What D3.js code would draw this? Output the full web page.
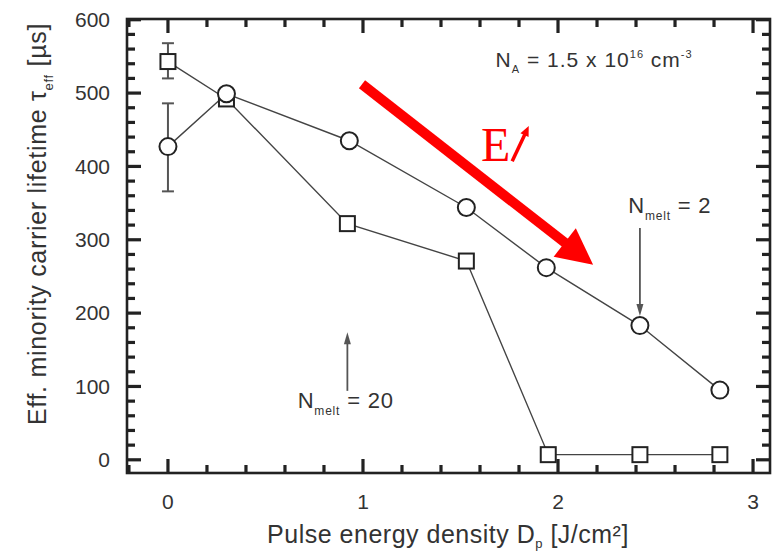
<!DOCTYPE html>
<html>
<head>
<meta charset="utf-8">
<script src="https://cdn.jsdelivr.net/npm/d3@7"></script>
<style>
  body { margin: 0; background: #fff; }
  text { font-family: "Liberation Sans", Arial, sans-serif; fill: #333; }
</style>
</head>
<body>
<div id="chart"></div>
<script>
// data
var circleX = [0, 0.30, 0.93, 1.53, 1.94, 2.42, 2.83];
var circleY = [427, 499, 435, 344, 262, 183, 95];
var squareX = [0, 0.30, 0.92, 1.53, 1.95, 2.42, 2.83];
var squareY = [543, 492, 322, 271, 7, 7, 7];
// error bars only on the first point of each series [x, low, high]
var circleErr = [[0, 366, 486]];
var squareErr = [[0, 520, 568]];
var xMajor = [0, 1, 2, 3];
var yMajor = [0, 100, 200, 300, 400, 500, 600];

var W = 775, H = 555;
var margin = {top: 19, right: 5, bottom: 82, left: 127};
var width = W - margin.left - margin.right;
var height = H - margin.top - margin.bottom;

var svg = d3.select("#chart").append("svg")
    .attr("width", W)
    .attr("height", H);
var g = svg.append("g")
    .attr("transform", "translate(" + margin.left + "," + margin.top + ")");

var x = d3.scaleLinear().domain([-0.21, 3.087]).range([0, width]);
var y = d3.scaleLinear().domain([-18, 601]).range([height, 0]);

var xMinor = d3.range(-0.2, 3.01, 0.2).map(function(d) { return +d.toFixed(1); })
    .filter(function(d) { return xMajor.indexOf(d) < 0; });
var yMinor = d3.range(0, 601, 20).filter(function(d) { return d % 100 !== 0; });

// inward ticks on all four sides of the frame, drawn as small filled rects
var tk = g.append("g").attr("fill", "#222");
function xTicks(vals, len) {
    tk.selectAll(null).data(vals).enter().append("rect")
        .attr("x", function(d) { return x(d) - 1.6; }).attr("y", height - len)
        .attr("width", 3.2).attr("height", len);
    tk.selectAll(null).data(vals).enter().append("rect")
        .attr("x", function(d) { return x(d) - 1.6; }).attr("y", 0)
        .attr("width", 3.2).attr("height", len);
}
function yTicks(vals, len) {
    tk.selectAll(null).data(vals).enter().append("rect")
        .attr("y", function(d) { return y(d) - 1.6; }).attr("x", 0)
        .attr("height", 3.2).attr("width", len);
    tk.selectAll(null).data(vals).enter().append("rect")
        .attr("y", function(d) { return y(d) - 1.6; }).attr("x", width - len)
        .attr("height", 3.2).attr("width", len);
}
xTicks(xMajor, 14);
xTicks(xMinor, 8);
yTicks(yMajor, 14);
yTicks(yMinor, 8);

// tick labels
g.selectAll(".xl").data(xMajor).enter().append("text")
    .attr("class", "xl")
    .attr("x", function(d) { return x(d); })
    .attr("y", height + 36)
    .attr("text-anchor", "middle")
    .style("font-size", "21px")
    .text(d3.format("d"));
g.selectAll(".yl").data(yMajor).enter().append("text")
    .attr("class", "yl")
    .attr("x", -17)
    .attr("y", function(d) { return y(d); })
    .attr("dy", "0.35em")
    .attr("text-anchor", "end")
    .style("font-size", "21px")
    .text(function(d) { return d; });

g.append("rect")
    .attr("width", width).attr("height", height)
    .attr("fill", "none").attr("stroke", "#222").attr("stroke-width", 2.6);

// axis titles
svg.append("text")
    .attr("x", 448).attr("y", 543)
    .attr("text-anchor", "middle")
    .style("font-size", "25px")
    .style("letter-spacing", "0.5px")
    .html('Pulse energy density D<tspan dy="5" style="font-size:13px">p</tspan><tspan dy="-5"> [J/cm²]</tspan>');

svg.append("text")
    .attr("transform", "translate(46,224) rotate(-90)")
    .attr("text-anchor", "middle")
    .style("font-size", "25px")
    .style("letter-spacing", "0.7px")
    .html('Eff. minority carrier lifetime τ<tspan dy="7" style="font-size:13px">eff</tspan><tspan dy="-7"> [µs]</tspan>');

// series lines
var line = d3.line().x(function(d) { return x(d[0]); }).y(function(d) { return y(d[1]); });
var circles = d3.zip(circleX, circleY);
var squares = d3.zip(squareX, squareY);

g.append("path").datum(squares).attr("d", line)
    .attr("fill", "none").attr("stroke", "#444").attr("stroke-width", 1.4);
g.append("path").datum(circles).attr("d", line)
    .attr("fill", "none").attr("stroke", "#444").attr("stroke-width", 1.4);

// error bars
function errorBars(data) {
    var eb = g.selectAll(null).data(data).enter().append("g")
        .attr("stroke", "#555").attr("stroke-width", 2);
    eb.append("line")
        .attr("x1", function(d) { return x(d[0]); }).attr("x2", function(d) { return x(d[0]); })
        .attr("y1", function(d) { return y(d[1]); }).attr("y2", function(d) { return y(d[2]); });
    eb.append("line")
        .attr("x1", function(d) { return x(d[0]) - 6; }).attr("x2", function(d) { return x(d[0]) + 6; })
        .attr("y1", function(d) { return y(d[1]); }).attr("y2", function(d) { return y(d[1]); });
    eb.append("line")
        .attr("x1", function(d) { return x(d[0]) - 6; }).attr("x2", function(d) { return x(d[0]) + 6; })
        .attr("y1", function(d) { return y(d[2]); }).attr("y2", function(d) { return y(d[2]); });
}
errorBars(circleErr);
errorBars(squareErr);

// markers
g.selectAll(".sq").data(squares).enter().append("rect")
    .attr("class", "sq")
    .attr("x", function(d) { return x(d[0]) - 7.5; })
    .attr("y", function(d) { return y(d[1]) - 7.5; })
    .attr("width", 15).attr("height", 15)
    .attr("fill", "#fff").attr("stroke", "#222").attr("stroke-width", 2);
g.selectAll(".ci").data(circles).enter().append("circle")
    .attr("class", "ci")
    .attr("cx", function(d) { return x(d[0]); })
    .attr("cy", function(d) { return y(d[1]); })
    .attr("r", 8.5)
    .attr("fill", "#fff").attr("stroke", "#222").attr("stroke-width", 2);

// arrow helper
function arrow(x1, y1, x2, y2, shaft, headLen, headW, color) {
    var dx = x2 - x1, dy = y2 - y1, L = Math.sqrt(dx * dx + dy * dy);
    var ux = dx / L, uy = dy / L, px = -uy, py = ux;
    var bx = x2 - ux * headLen, by = y2 - uy * headLen;
    g.append("line")
        .attr("x1", x1).attr("y1", y1).attr("x2", bx + ux).attr("y2", by + uy)
        .attr("stroke", color).attr("stroke-width", shaft);
    g.append("path")
        .attr("d", "M" + x2 + "," + y2 +
            "L" + (bx + px * headW / 2) + "," + (by + py * headW / 2) +
            "L" + (bx - px * headW / 2) + "," + (by - py * headW / 2) + "Z")
        .attr("fill", color);
}

// annotations
g.append("text")
    .attr("x", x(1.68)).attr("y", y(535))
    .style("font-size", "21px")
    .style("letter-spacing", "1px")
    .html('N<tspan dy="6" style="font-size:11px">A</tspan><tspan dy="-6"> = 1.5 x 10</tspan><tspan dy="-9" style="font-size:11px">16</tspan><tspan dy="9"> cm</tspan><tspan dy="-9" style="font-size:11px">-3</tspan>');

g.append("text")
    .attr("x", x(0.665)).attr("y", y(70))
    .style("font-size", "22px")
    .style("letter-spacing", "0.8px")
    .html('N<tspan dy="7" style="font-size:12px">melt</tspan><tspan dy="-7"> = 20</tspan>');
arrow(x(0.92), y(94), x(0.92), y(174), 1.8, 12, 7, "#555");

g.append("text")
    .attr("x", x(2.36)).attr("y", y(336))
    .style("font-size", "22px")
    .style("letter-spacing", "0.8px")
    .html('N<tspan dy="7" style="font-size:12px">melt</tspan><tspan dy="-7"> = 2</tspan>');
arrow(x(2.42), y(316), x(2.42), y(196), 1.8, 12, 7, "#555");

// red trend arrow and label
arrow(x(0.995), y(512), x(2.18), y(266), 10, 36, 36, "#f00");
g.append("text")
    .attr("x", x(1.605)).attr("y", y(408))
    .style("font-family", "'Liberation Serif', 'Times New Roman', serif")
    .style("font-size", "48px")
    .style("fill", "#f00")
    .text("E");
arrow(x(1.765), y(407), x(1.85), y(455), 3.5, 10, 9, "#f00");
</script>
</body>
</html>
